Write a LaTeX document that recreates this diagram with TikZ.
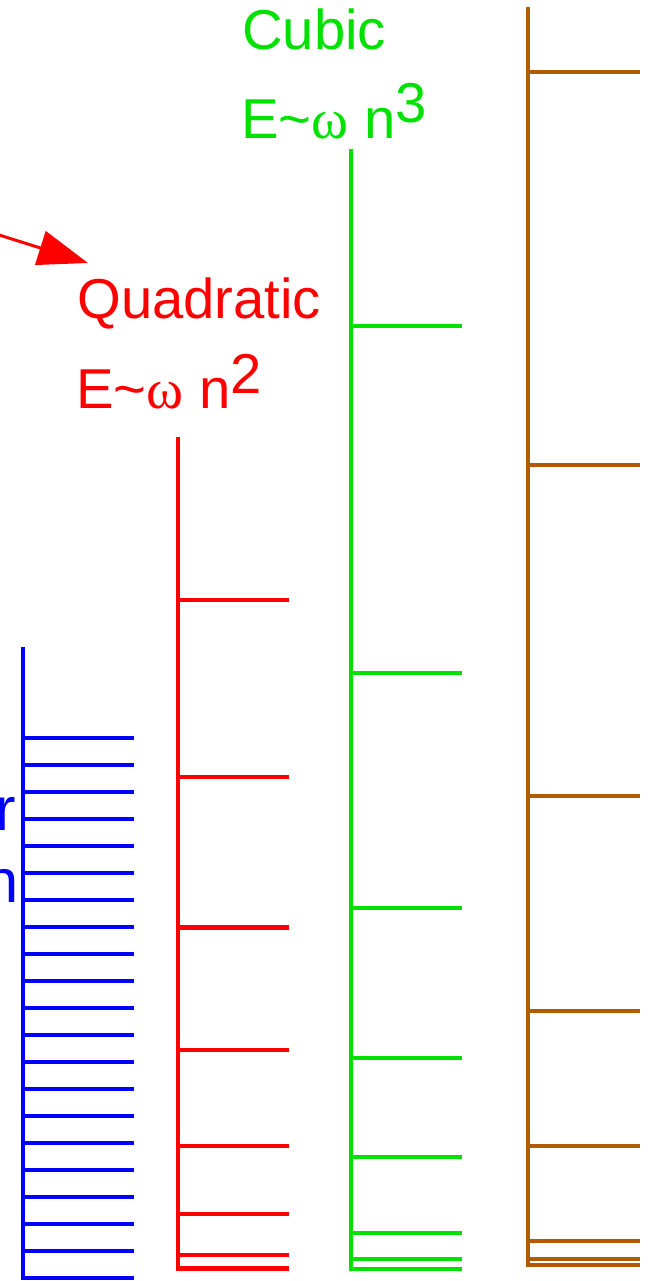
\documentclass[tikz,border=0pt]{standalone}
\usepackage{fontspec}
\setmainfont{Liberation Sans}
\newfontfamily\greekfont{Liberation Serif}
\usepackage{xcolor}
\usepackage{tikz}
\usetikzlibrary{arrows.meta, positioning}
\definecolor{linblue}{RGB}{0,0,255}
\definecolor{quadred}{RGB}{255,0,0}
\definecolor{cubgreen}{RGB}{0,225,0}
\definecolor{quarbrown}{RGB}{176,92,0}
\newcommand{\omegachar}{{\greekfont ω}}
\tikzset{
  axisline/.style={line width=2.3pt},
  rungline/.style={line width=2.3pt},
  eqlabel/.style={anchor=base west, inner sep=0pt, font=\fontsize{32}{38}\selectfont},
  cutlabel/.style={anchor=base east, inner sep=0pt, font=\fontsize{35}{40}\selectfont, linblue}
}

\begin{document}
\begin{tikzpicture}[
  x=0.02cm, y=-0.02cm,
  arrow/.style={-{Triangle[length=1cm, width=0.7cm]}, line width=1.7pt, quadred},
]
\useasboundingbox (0,0) rectangle (656,1281);

% Linear levels
\draw[axisline, linblue] (23,647) -- (23,1277.7) -- (134,1277.7);
\foreach \k in {0,...,19}
  \draw[rungline, linblue] (23,737.7+27*\k) -- (134,737.7+27*\k);
\node[cutlabel] (linr) at (16,830) {r};
\node[cutlabel] (linn) at (19,902) {n};

% Quadratic levels
\draw[axisline, quadred] (177.7,437.3) -- (177.7,1268.5) -- (289,1268.5);
\foreach \n in {1,...,7}
  \draw[rungline, quadred] (177.7,1268.5-13.64*\n*\n) -- (289,1268.5-13.64*\n*\n);
\node[eqlabel, quadred] (quadname) at (77,318) {Quadratic};
\node[eqlabel, quadred] (quadeq) at (76,408) {E\textasciitilde\omegachar{} n\raisebox{0.3cm}{2}};

% Cubic levels
\draw[axisline, cubgreen] (350.7,149.3) -- (350.7,1268.7) -- (462.3,1268.7);
\foreach \y in {326,672.7,907.7,1057.7,1157,1233.3,1258.7}
  \draw[rungline, cubgreen] (350.7,\y) -- (462.3,\y);
\node[eqlabel, cubgreen] (cubname) at (242,50) {Cubic};
\node[eqlabel, cubgreen] (cubeq) at (241,138) {E\textasciitilde\omegachar{} n\raisebox{0.32cm}{3}};

% Steeper levels
\draw[axisline, quarbrown] (527.7,6.7) -- (527.7,1264.7) -- (639.5,1264.7);
\foreach \y in {71.7,465,796,1011.3,1145.7,1241,1258.7}
  \draw[rungline, quarbrown] (527.7,\y) -- (639.5,\y);

% Pointer
\coordinate (src) at (-4,234);
\coordinate (tip) at (88,263);
\draw[arrow] (src) -- (tip);

\end{tikzpicture}
\end{document}
